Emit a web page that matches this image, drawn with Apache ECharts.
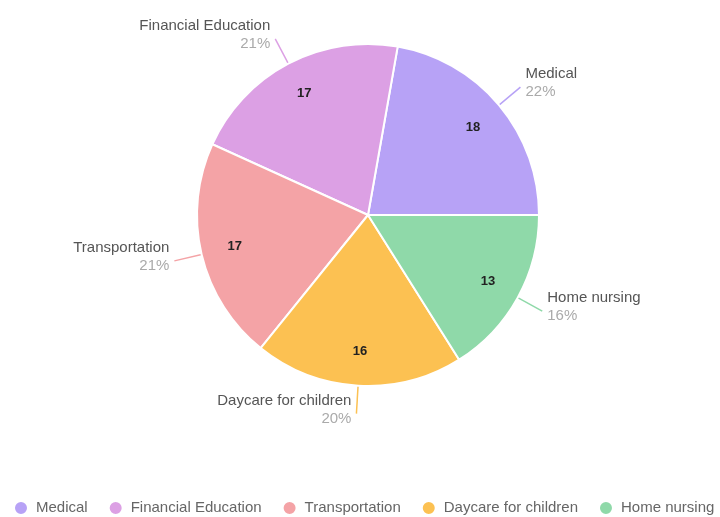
<!DOCTYPE html>
<html>
<head>
<meta charset="utf-8">
<script src="https://cdn.jsdelivr.net/npm/echarts@6/dist/echarts.min.js"></script>
<style>
  html, body { margin: 0; padding: 0; background: #fff; }
  #chart { width: 720px; height: 517px; }
</style>
</head>
<body>
<div id="chart"></div>
<script>
const categories = ["Medical", "Financial Education", "Transportation", "Daycare for children", "Home nursing"];
const values = [18, 17, 17, 16, 13];
const colors = ["#b7a2f6", "#dca0e4", "#f4a3a6", "#fcc152", "#8fd9a9"];

const pieData = categories.map((name, i) => ({
  name: name,
  value: values[i],
  itemStyle: { color: colors[i] },
  labelLine: { lineStyle: { color: colors[i] } }
}));

const chart = echarts.init(document.getElementById("chart"));
chart.setOption({
  animation: false,
  legend: {
    top: 495,
    left: 8,
    width: 900,
    icon: "circle",
    itemWidth: 14,
    itemHeight: 14,
    itemGap: 20,
    textStyle: { color: "#666", fontSize: 15, fontFamily: "Liberation Sans", padding: [0, 0, 0, 3] },
    data: categories
  },
  series: [
    {
      // slices and outside labels
      type: "pie",
      center: [368, 215],
      radius: 171,
      startAngle: 0,
      clockwise: false,
      avoidLabelOverlap: false,
      itemStyle: { borderColor: "#fff", borderWidth: 2 },
      label: {
        show: true,
        position: "outside",
        padding: [0, 0, 8, 0],
        formatter: p => "{n|" + p.name + "}\n{p|" + Math.round(p.percent) + "%}",
        rich: {
          n: { color: "#555", fontSize: 15, lineHeight: 18, fontFamily: "Liberation Sans" },
          p: { color: "#aaa", fontSize: 15, lineHeight: 18, fontFamily: "Liberation Sans" }
        }
      },
      labelLine: { show: true, length: 28, length2: 0, lineStyle: { width: 1.5 } },
      emphasis: { disabled: true },
      data: pieData
    },
    {
      // value labels placed further out than the default inside spot
      type: "pie",
      center: [368, 215],
      radius: [97, 171],
      startAngle: 0,
      clockwise: false,
      silent: true,
      itemStyle: { color: "transparent" },
      label: {
        show: true,
        position: "inside",
        formatter: "{c}",
        color: "#222",
        fontSize: 13,
        fontWeight: "bold",
        fontFamily: "Liberation Sans"
      },
      labelLine: { show: false },
      emphasis: { disabled: true },
      data: categories.map((name, i) => ({ name: name, value: values[i] }))
    }
  ]
});
</script>
</body>
</html>
